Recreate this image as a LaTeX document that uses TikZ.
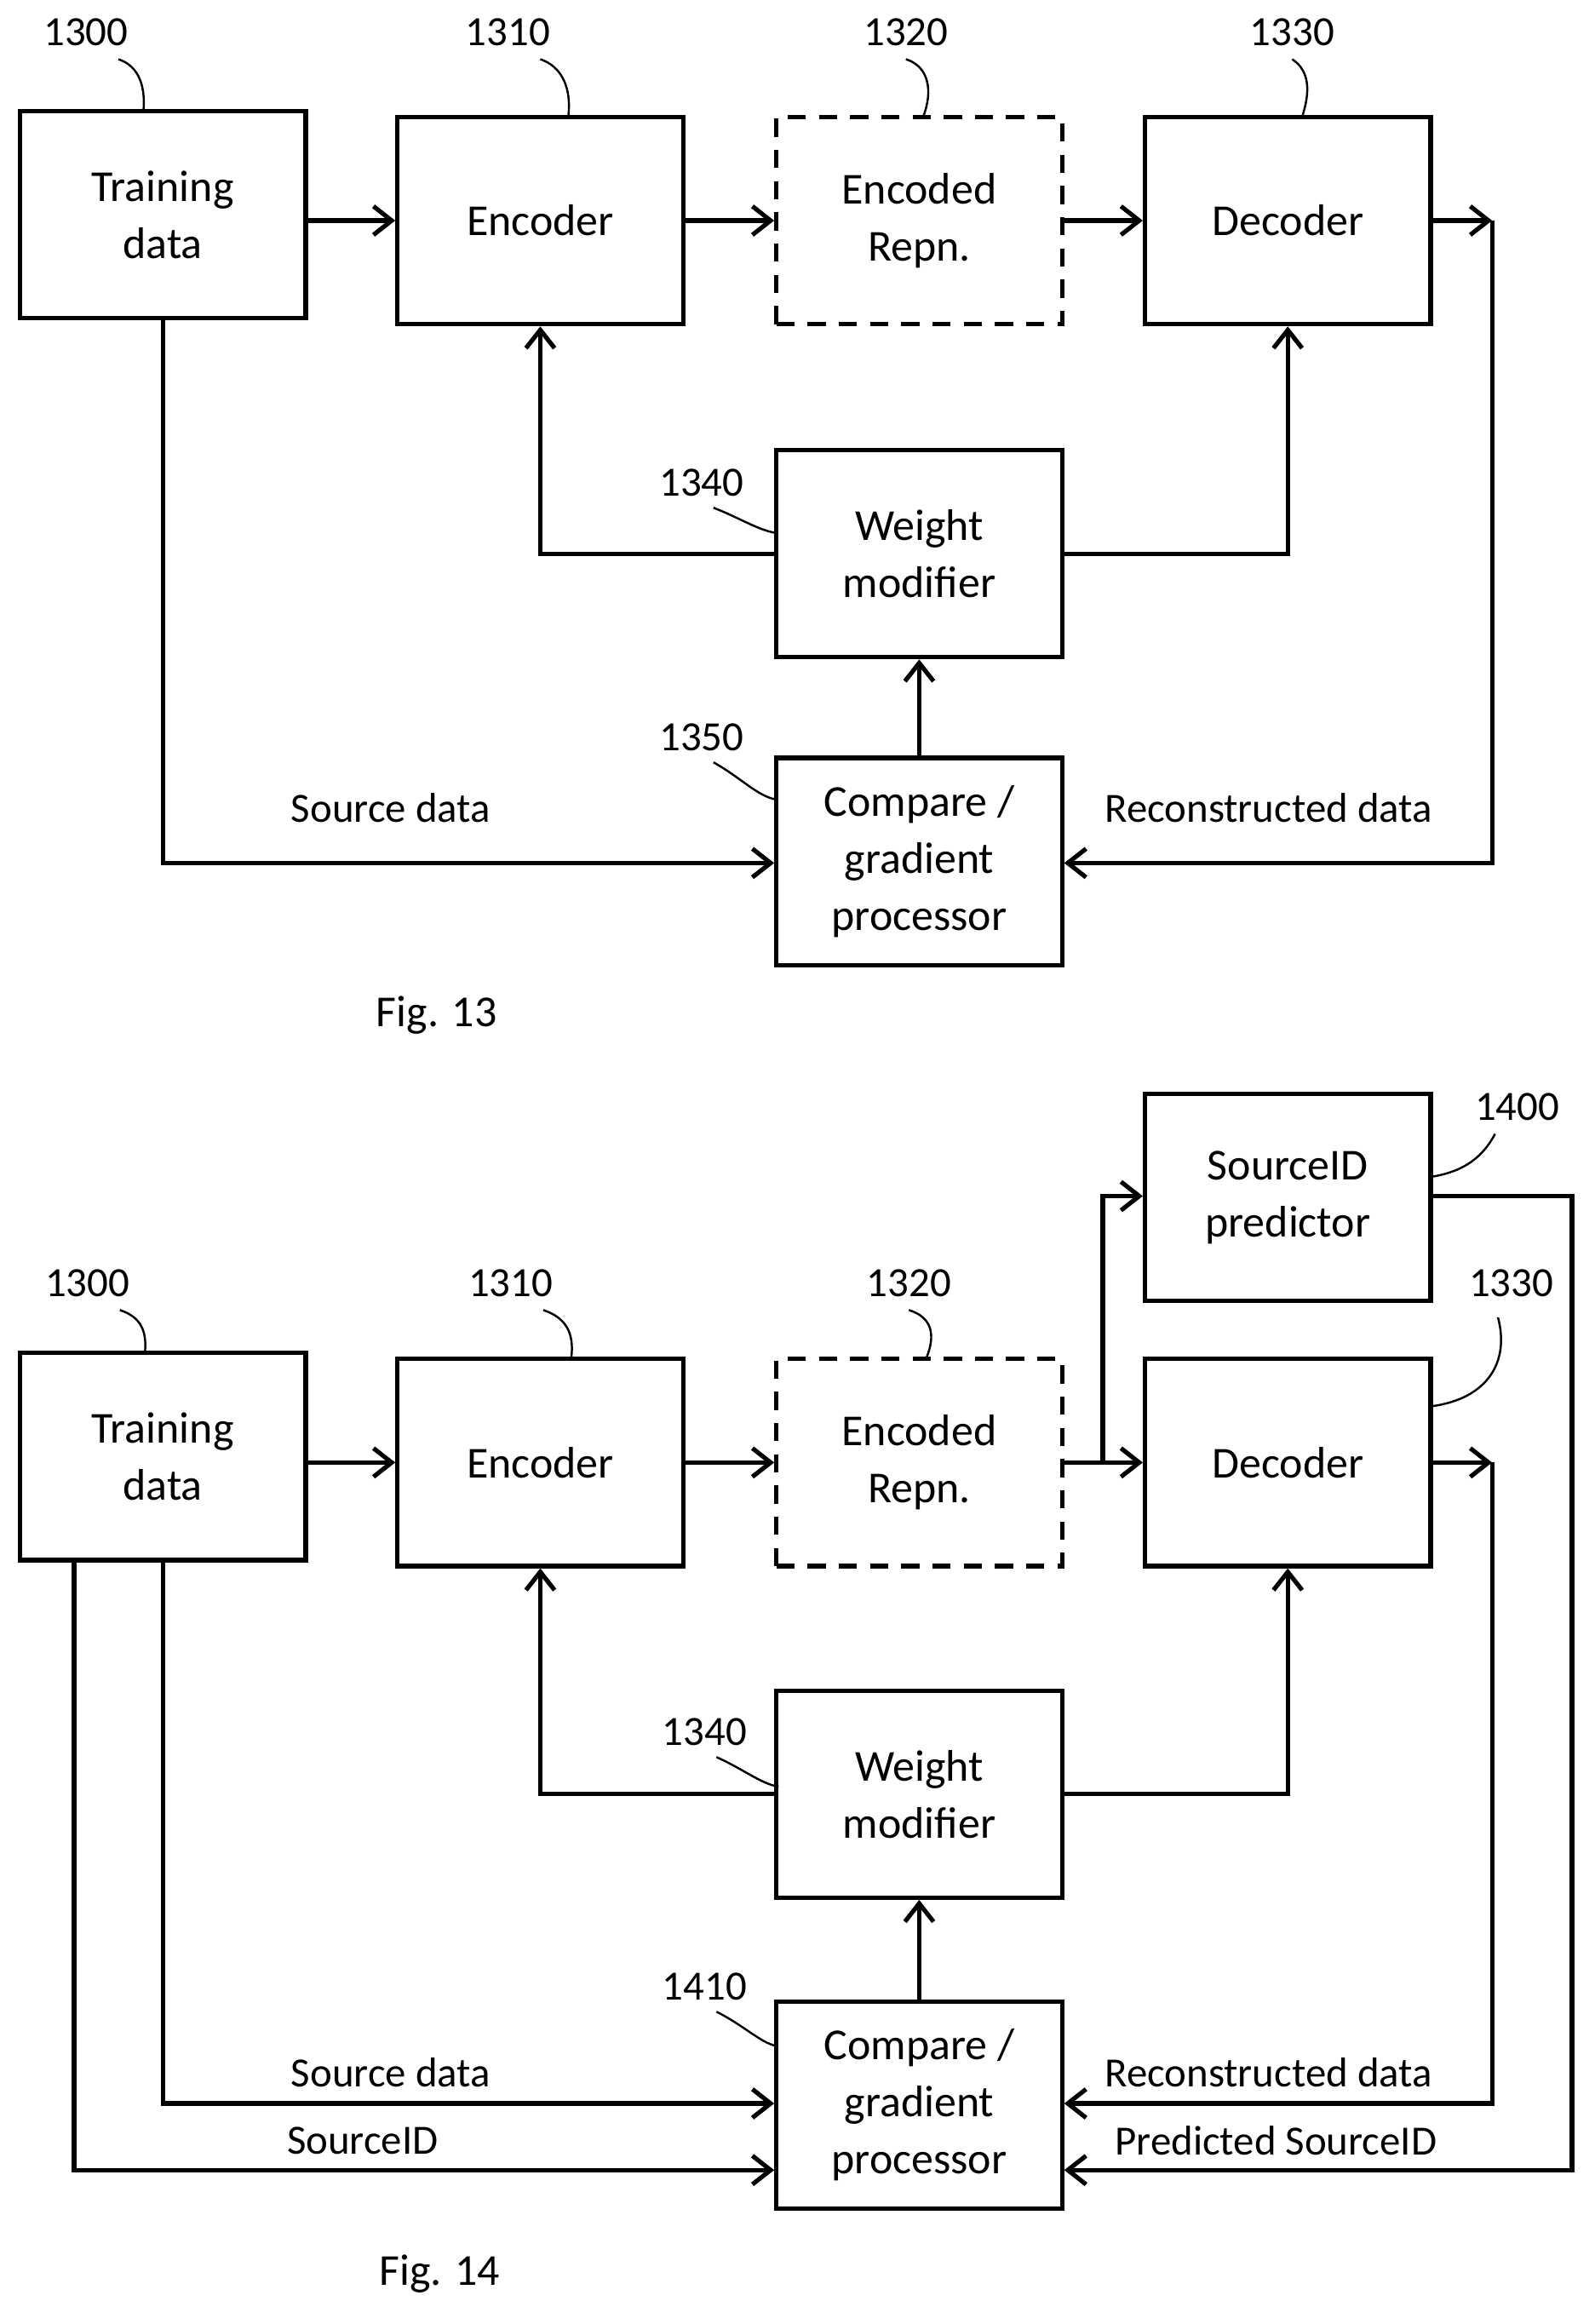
\documentclass[tikz,border=0pt]{standalone}
\usepackage{fontspec}
\setmainfont{Carlito}
\usetikzlibrary{arrows.meta}
\begin{document}
\begin{tikzpicture}[x=0.02cm,y=-0.02cm,
  box/.style={draw,line width=1.7pt,minimum width=3.86cm,minimum height=2.8cm,align=center,font=\fontsize{17}{22}\selectfont,inner sep=0pt},
  dbox/.style={box,dash pattern=on 7pt off 5pt},
  ar/.style={line width=1.7pt,-{Straight Barb[length=7pt,width=11pt,line width=1.7pt]}},
  ln/.style={line width=1.7pt},
  lbl/.style={font=\fontsize{16}{20}\selectfont,inner sep=1pt},
  lead/.style={line width=0.8pt}]
\useasboundingbox (0,0) rectangle (1077,1570);
% ---------- Fig 13 ----------
\node[box] (td) at (110,145) {Training\\data};
\node[box] (en) at (365,149) {Encoder};
\node[dbox] (er) at (621,149) {Encoded\\Repn.};
\node[box] (de) at (870,149) {Decoder};
\node[box] (wm) at (621,374) {Weight\\modifier};
\node[box] (cg) at (621,582) {Compare /\\gradient\\processor};
\coordinate (o1) at (1008,149);
\coordinate (r1) at (1008,583);
\coordinate (s1) at (110,583);
\coordinate (wl) at (365,374);
\coordinate (wr) at (870,374);
\draw[ar] (td.east |- en) -- (en.west);
\draw[ar] (en) -- (er);
\draw[ar] (er) -- (de);
\draw[ar] (de.east) -- (o1);
\draw[ar] (o1) -- (r1) -- (cg.east |- r1);
\draw[ar] (td.south) -- (s1) -- (cg.west |- s1);
\draw[ar] (wm.west) -- (wl) -- (en.south);
\draw[ar] (wm.east) -- (wr) -- (de.south);
\draw[ar] (cg.north) -- (wm.south);
\node[lbl] at (264,546) {Source data};
\node[lbl] at (857,546) {Reconstructed data};
\node[lbl] (n1300) at (58,22) {1300};
\node[lbl] (n1310) at (343,22) {1310};
\node[lbl] (n1320) at (612,22) {1320};
\node[lbl] (n1330) at (873,22) {1330};
\node[lbl] (n1340) at (474,326) {1340};
\node[lbl] (n1350) at (474,498) {1350};
\draw[lead] (80,40) .. controls (95,45) and (98,60) .. (97,74);
\draw[lead] (365,40) .. controls (380,45) and (386,60) .. (384,78);
\draw[lead] (612,40) .. controls (628,45) and (630,62) .. (624,78);
\draw[lead] (873,40) .. controls (885,48) and (885,62) .. (880,78);
\draw[lead] (482,343) .. controls (500,350) and (512,358) .. (524,360);
\draw[lead] (482,515) .. controls (500,525) and (512,538) .. (524,540);
\node[font=\fontsize{17}{22}\selectfont] at (295,686) {Fig. 13};
% ---------- Fig 14 ----------
\node[box] (td2) at (110,984) {Training\\data};
\node[box] (en2) at (365,988) {Encoder};
\node[dbox] (er2) at (621,988) {Encoded\\Repn.};
\node[box] (de2) at (870,988) {Decoder};
\node[box] (sp) at (870,809) {SourceID\\predictor};
\node[box] (wm2) at (621,1212) {Weight\\modifier};
\node[box] (cg2) at (621,1422) {Compare /\\gradient\\processor};
\coordinate (br) at (745,988);
\coordinate (bu) at (745,808);
\coordinate (o2) at (1008,988);
\coordinate (r2) at (1008,1421);
\coordinate (p1) at (1062,808);
\coordinate (p2) at (1062,1466);
\coordinate (s2) at (110,1421);
\coordinate (t2) at (50,1466);
\coordinate (wl2) at (365,1212);
\coordinate (wr2) at (870,1212);
\draw[ar] (td2.east |- en2) -- (en2.west);
\draw[ar] (en2) -- (er2);
\draw[ar] (er2) -- (de2);
\draw[ar] (br) -- (bu) -- (sp.west |- bu);
\draw[ar] (de2.east) -- (o2);
\draw[ar] (o2) -- (r2) -- (cg2.east |- r2);
\draw[ar] (sp.east |- p1) -- (p1) -- (p2) -- (cg2.east |- p2);
\draw[ar] (td2.south) -- (s2) -- (cg2.west |- s2);
\draw[ar] (td2.south west -| t2) -- (t2) -- (cg2.west |- t2);
\draw[ar] (wm2.west) -- (wl2) -- (en2.south);
\draw[ar] (wm2.east) -- (wr2) -- (de2.south);
\draw[ar] (cg2.north) -- (wm2.south);
\node[lbl] at (264,1400) {Source data};
\node[lbl] at (245,1446) {SourceID};
\node[lbl] at (857,1400) {Reconstructed data};
\node[lbl] at (862,1446) {Predicted SourceID};
\node[lbl] (m1300) at (59,867) {1300};
\node[lbl] (m1310) at (345,867) {1310};
\node[lbl] (m1320) at (614,867) {1320};
\node[lbl] (m1330) at (1021,867) {1330};
\node[lbl] (m1400) at (1025,748) {1400};
\node[lbl] (m1340) at (476,1170) {1340};
\node[lbl] (m1410) at (476,1342) {1410};
\draw[lead] (81,885) .. controls (96,890) and (99,900) .. (98,913);
\draw[lead] (367,885) .. controls (382,890) and (388,900) .. (386,917);
\draw[lead] (614,885) .. controls (630,890) and (632,902) .. (626,917);
\draw[lead] (1012,890) .. controls (1020,920) and (1005,945) .. (967,950);
\draw[lead] (1010,766) .. controls (1000,785) and (985,792) .. (967,795);
\draw[lead] (484,1187) .. controls (502,1195) and (514,1205) .. (526,1207);
\draw[lead] (484,1359) .. controls (502,1368) and (514,1380) .. (524,1382);
\node[font=\fontsize{17}{22}\selectfont] at (297,1536) {Fig. 14};
\end{tikzpicture}
\end{document}
